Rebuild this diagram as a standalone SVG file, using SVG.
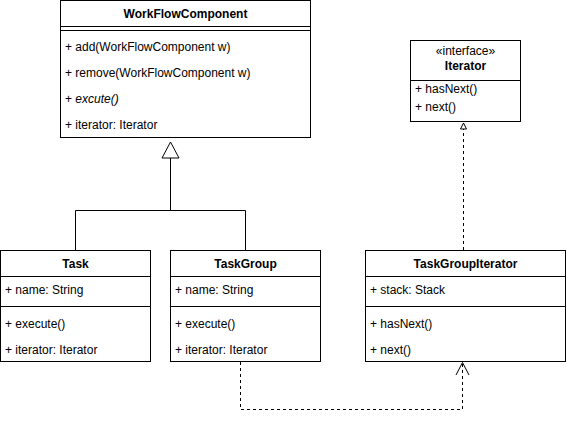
<svg xmlns="http://www.w3.org/2000/svg" width="566" height="425" viewBox="0 0 566 425">
<style>
.box{fill:#fff;stroke:#000;stroke-width:1}
.ln{stroke:#000;stroke-width:1;fill:none}
.dash{stroke:#000;stroke-width:1;fill:none;stroke-dasharray:3 3}
text{font-family:"Liberation Sans",Arial,sans-serif;font-size:12px;fill:#000}
.t{font-weight:bold;text-anchor:middle}
.c{text-anchor:middle}
</style>
<rect width="566" height="425" fill="#fff"/>
<g id="connectors">
<path class="ln" d="M75.5 250 V210.5 H245.5 V250 M170.5 210.5 V158"/>
<path class="box" d="M170.5 142 L179 158 L162 158 Z"/>
<path class="dash" d="M240.5 362 V409.5 H462.5 V363"/>
<path class="ln" d="M456 375 L462.5 362.5 L469 375"/>
<path class="dash" d="M463.5 250 V129"/>
<path class="box" d="M463.5 123 L466.5 129 L460.5 129 Z"/>
</g>
<g id="WorkFlowComponent">
<rect class="box" x="60.5" y="0.5" width="250" height="137"/>
<path class="ln" d="M60.5 26.5 H310.5 M60.5 30.5 H310.5"/>
<text class="t" x="185.5" y="18">WorkFlowComponent</text>
<text x="65" y="51">+ add(WorkFlowComponent w)</text>
<text x="65" y="77">+ remove(WorkFlowComponent w)</text>
<text x="65" y="103">+ <tspan font-style="italic">excute()</tspan></text>
<text x="65" y="129">+ iterator: Iterator</text>
</g>
<g id="Iterator">
<rect class="box" x="410.5" y="40.5" width="110" height="81"/>
<path class="ln" d="M410.5 80.5 H520.5"/>
<text class="c" x="465.5" y="55" font-size="11">«interface»</text>
<text class="t" x="465.5" y="70">Iterator</text>
<text x="415" y="93">+ hasNext()</text>
<text x="415" y="111">+ next()</text>
</g>
<g id="Task">
<rect class="box" x="0.5" y="250.5" width="150" height="111"/>
<path class="ln" d="M0.5 276.5 H150.5 M0.5 306.5 H150.5"/>
<text class="t" x="75.5" y="268">Task</text>
<text x="5" y="294">+ name: String</text>
<text x="5" y="328">+ execute()</text>
<text x="5" y="354">+ iterator: Iterator</text>
</g>
<g id="TaskGroup">
<rect class="box" x="170.5" y="250.5" width="150" height="111"/>
<path class="ln" d="M170.5 276.5 H320.5 M170.5 306.5 H320.5"/>
<text class="t" x="245.5" y="268">TaskGroup</text>
<text x="175" y="294">+ name: String</text>
<text x="175" y="328">+ execute()</text>
<text x="175" y="354">+ iterator: Iterator</text>
</g>
<g id="TaskGroupIterator">
<rect class="box" x="365.5" y="250.5" width="200" height="111"/>
<path class="ln" d="M365.5 276.5 H565.5 M365.5 306.5 H565.5"/>
<text class="t" x="465.5" y="268">TaskGroupIterator</text>
<text x="370" y="294">+ stack: Stack</text>
<text x="370" y="328">+ hasNext()</text>
<text x="370" y="354">+ next()</text>
</g>
</svg>
